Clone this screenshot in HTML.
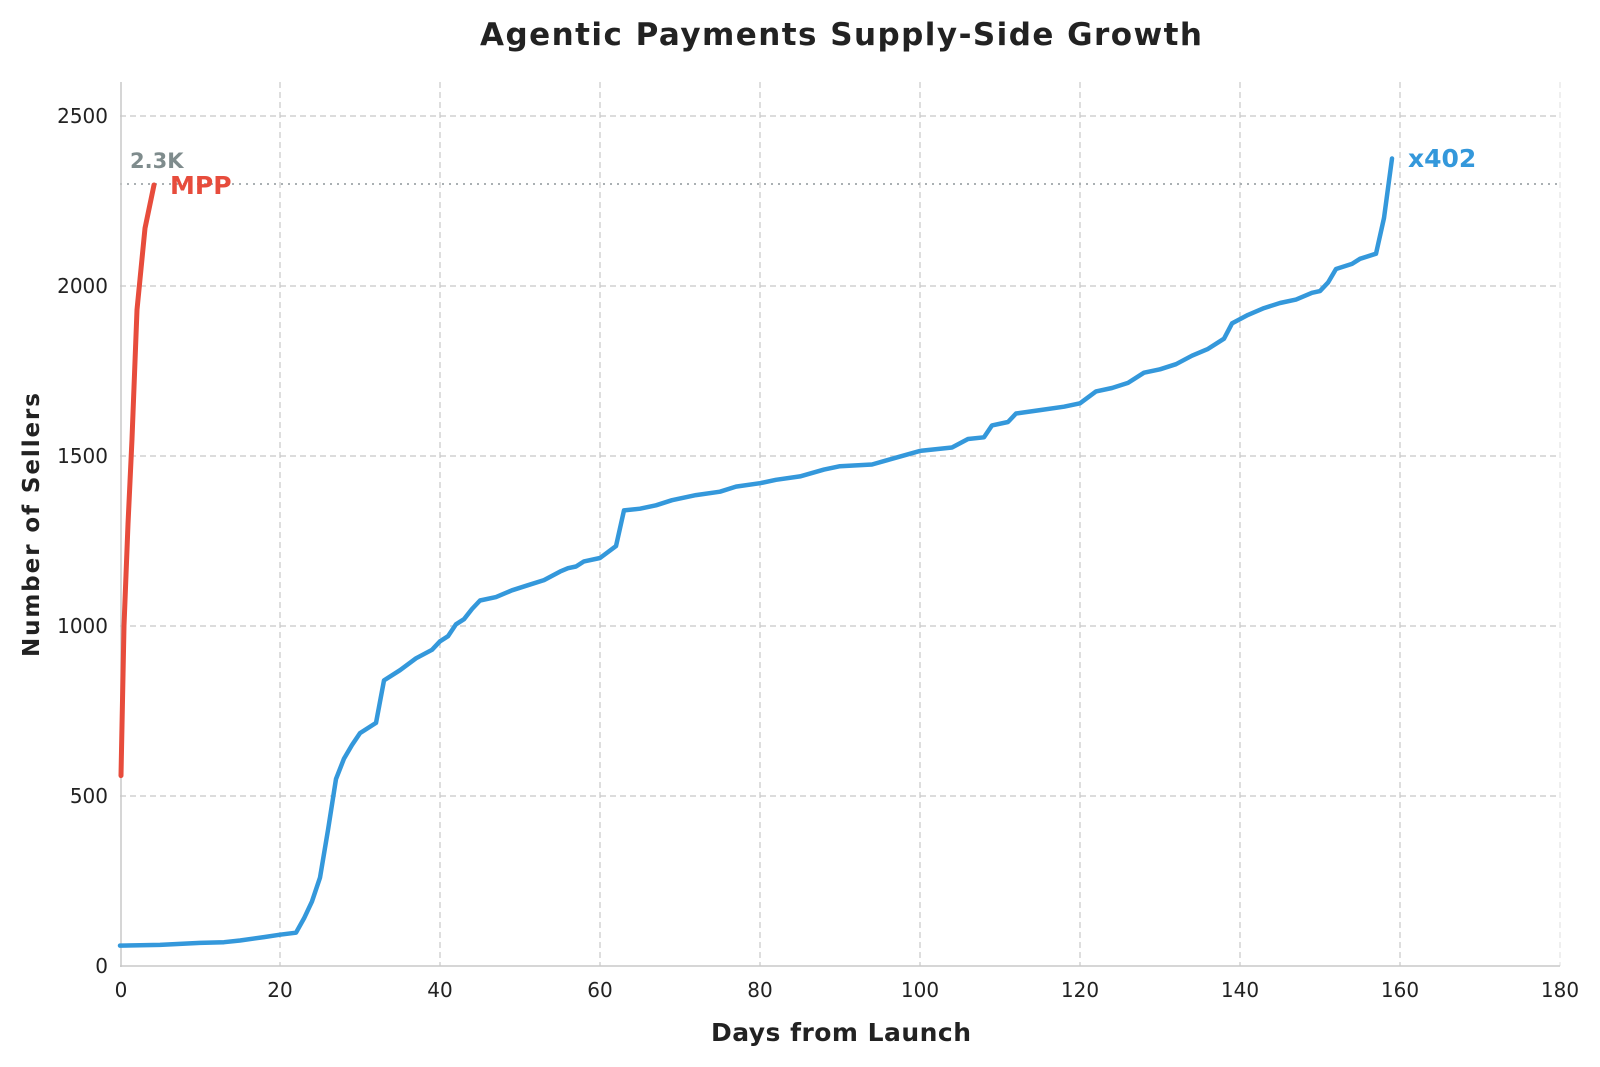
<!DOCTYPE html>
<html><head><meta charset="utf-8"><style>html,body{margin:0;padding:0;background:#fff}svg{display:block}</style></head>
<body>
<svg width="1600" height="1067" viewBox="0 0 1600 1067" xmlns="http://www.w3.org/2000/svg" font-family="DejaVu Sans, Liberation Sans, sans-serif">
<rect width="1600" height="1067" fill="#fff"/>
<g stroke="#c8c8c8" stroke-width="1.2" stroke-dasharray="6,4" fill="none">
<line x1="280" y1="82" x2="280" y2="966"/><line x1="440" y1="82" x2="440" y2="966"/>
<line x1="600" y1="82" x2="600" y2="966"/><line x1="760" y1="82" x2="760" y2="966"/>
<line x1="920" y1="82" x2="920" y2="966"/><line x1="1080" y1="82" x2="1080" y2="966"/>
<line x1="1240" y1="82" x2="1240" y2="966"/><line x1="1400" y1="82" x2="1400" y2="966"/>
<line x1="1560" y1="82" x2="1560" y2="966" stroke="#e4e4e4"/>
<line x1="120" y1="796" x2="1560" y2="796"/><line x1="120" y1="626" x2="1560" y2="626"/>
<line x1="120" y1="456" x2="1560" y2="456"/><line x1="120" y1="286" x2="1560" y2="286"/>
<line x1="120" y1="116" x2="1560" y2="116"/>
</g>
<line x1="120" y1="184" x2="1560" y2="184" stroke="#aab0b3" stroke-width="2" stroke-dasharray="2,5"/>
<line x1="121" y1="82" x2="121" y2="967" stroke="#c8c8c8" stroke-width="1.5"/>
<line x1="120" y1="966" x2="1560" y2="966" stroke="#c8c8c8" stroke-width="1.5"/>
<g font-size="20" fill="#222">
<g text-anchor="end"><text x="108" y="973">0</text><text x="108" y="803">500</text><text x="108" y="633">1000</text><text x="108" y="463">1500</text><text x="108" y="293">2000</text><text x="108" y="123">2500</text></g>
<g text-anchor="middle"><text x="121" y="997">0</text><text x="280" y="997">20</text><text x="440" y="997">40</text><text x="600" y="997">60</text><text x="760" y="997">80</text><text x="920" y="997">100</text><text x="1080" y="997">120</text><text x="1240" y="997">140</text><text x="1400" y="997">160</text><text x="1560" y="997">180</text></g>
</g>
<text x="841" y="45" text-anchor="middle" font-size="31" font-weight="bold" fill="#222" textLength="722">Agentic Payments Supply-Side Growth</text>
<text x="841" y="1041" text-anchor="middle" font-size="25" font-weight="bold" fill="#222" textLength="260">Days from Launch</text>
<text transform="translate(39,525) rotate(-90)" text-anchor="middle" font-size="23" font-weight="bold" fill="#222" textLength="264">Number of Sellers</text>
<polyline fill="none" stroke="#3498db" stroke-width="4.5" stroke-linejoin="round" stroke-linecap="round" points="120,945.6 160,944.9 200,942.9 224,942.2 240,940.5 264,937.1 280,934.7 296,932.7 304,918.4 312,901.4 320,877.6 328,830 336,779 344,758.6 352,745 360,733.1 368,728 376,722.9 384,680.4 400,670.2 416,658.3 432,649.8 440,641.3 448,636.2 456,624.3 464,619.2 472,609 480,600.5 496,597.1 512,590.3 528,585.2 544,580.1 560,571.6 568,568.2 576,566.5 584,561.4 600,558 616,546.1 624,510.4 640,508.7 656,505.3 672,500.2 696,495.1 720,491.7 736,486.6 760,483.2 776,479.8 800,476.4 824,469.6 840,466.2 872,464.5 896,457.7 920,450.9 952,447.5 968,439 984,437.3 992,425.4 1008,422 1016,413.5 1040,410.1 1064,406.7 1080,403.3 1096,391.4 1112,388 1128,382.9 1144,372.7 1160,369.3 1176,364.2 1192,355.7 1208,348.9 1224,338.7 1232,323.4 1248,314.9 1264,308.1 1280,303 1296,299.6 1312,292.8 1320,291.1 1328,282.6 1336,269 1352,263.9 1360,258.8 1376,253.7 1384,218 1392,158.5"/>
<polyline fill="none" stroke="#e74c3c" stroke-width="5" stroke-linejoin="round" stroke-linecap="round" points="121,775.6 124,626 128,524 132,439 137,309.8 145,228.2 154,185"/>
<text x="130" y="168" font-size="21" font-weight="bold" fill="#7f8c8d">2.3K</text>
<text x="170" y="194" font-size="25" font-weight="bold" fill="#e74c3c">MPP</text>
<text x="1408" y="167" font-size="25" font-weight="bold" fill="#3498db">x402</text>
</svg>
</body></html>
